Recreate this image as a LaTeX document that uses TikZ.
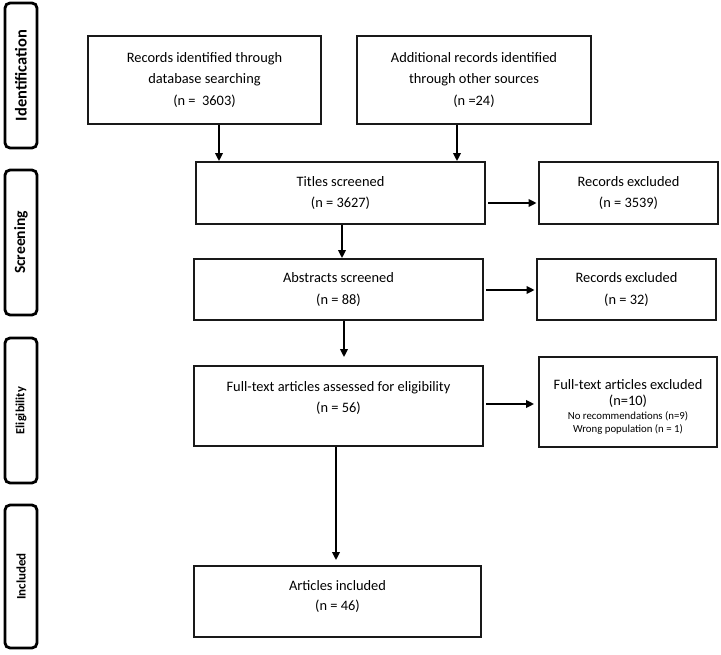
\documentclass[tikz,border=0pt]{standalone}
\usepackage{fontspec}
\setmainfont{Carlito}
\usetikzlibrary{arrows.meta,calc}
\begin{document}
\begin{tikzpicture}[x=1pt,y=-1pt,
  box/.style={draw=black!90, line width=1.8pt, inner sep=0pt, align=center, font=\fontsize{14.4}{21.5}\selectfont},
  phase/.style={draw=black, line width=2.8pt, rounded corners=5pt, rotate=90, inner sep=0pt, minimum height=32pt},
  arr/.style={-{Triangle[length=8pt,width=7.5pt]}, line width=2pt},
  txt/.style={inner sep=0pt, anchor=base, font=\fontsize{14.4}{21.5}\selectfont},
  small/.style={inner sep=0pt, anchor=base, font=\fontsize{10.8}{13}\selectfont}]
\useasboundingbox (0,0) rectangle (721,655);

% phase labels
\node[phase, minimum width=145pt, font=\bfseries\fontsize{16.5}{18}\selectfont] (ident) at (21,75.5) {Identification};
\node[phase, minimum width=145pt, font=\bfseries\fontsize{15.6}{18}\selectfont] (screen) at (21,242.5) {Screening};
\node[phase, minimum width=145pt, font=\bfseries\fontsize{12.5}{14}\selectfont] (elig) at (21,410.5) {Eligibility};
\node[phase, minimum width=143pt, font=\bfseries\fontsize{13}{14}\selectfont] (incl) at (21,576.5) {Included};

% boxes
\node[box, minimum width=233pt, minimum height=88pt] (rec) at (204.5,80) {Records identified through\\database searching\\(n =\ \ 3603)};
\node[box, minimum width=234pt, minimum height=88pt] (add) at (474,80) {Additional records identified\\through other sources\\(n =24)};
\node[box, minimum width=289pt, minimum height=62pt] (titles) at (340.5,193) {Titles screened\\(n = 3627)};
\node[box, minimum width=179pt, minimum height=62pt] (ex1) at (628.5,193) {Records excluded\\(n = 3539)};
\node[box, minimum width=289pt, minimum height=61pt] (abs) at (338.5,289.5) {Abstracts screened\\(n = 88)};
\node[box, minimum width=179pt, minimum height=61pt] (ex2) at (626.5,289.5) {Records excluded\\(n = 32)};
\node[box, minimum width=289pt, minimum height=80pt] (full) at (338.5,406) {};
\node[txt] (fulltxt1) at (338.5,391.5) {Full-text articles assessed for eligibility};
\node[txt] (fulltxt2) at (338.5,413) {(n = 56)};
\node[box, minimum width=178pt, minimum height=90pt] (ex3) at (628,401.7) {};
\node[txt] (ex3t1) at (628,389.5) {Full-text articles excluded};
\node[txt] (ex3t2) at (628,405) {(n=10)};
\node[small] (ex3t3) at (628,419.5) {No recommendations (n=9)};
\node[small] (ex3t4) at (628,432.5) {Wrong population (n = 1)};
\node[box, minimum width=287pt, minimum height=71pt] (art) at (337.5,601.5) {};
\node[txt] (arttxt1) at (337.5,590.5) {Articles included};
\node[txt] (arttxt2) at (337.5,610.5) {(n = 46)};

% vertical arrows
\coordinate (a1) at ($(rec.south)+(14.5,0)$);
\draw[arr] (a1) -- (a1 |- titles.north);
\coordinate (a2) at ($(add.south)+(-17,0)$);
\draw[arr] (a2) -- (a2 |- titles.north);
\coordinate (a3) at ($(titles.south)+(1.5,0)$);
\draw[arr] (a3) -- (a3 |- abs.north);
\coordinate (a4) at ($(abs.south)+(5.5,0)$);
\draw[arr, shorten >=8pt] (a4) -- (a4 |- full.north);
\coordinate (a5) at ($(full.south)+(-2.5,0)$);
\draw[arr, shorten >=5pt] (a5) -- (a5 |- art.north);

% horizontal arrows
\coordinate (h1) at ($(titles.east)+(2.5,10)$);
\draw[arr, shorten >=1.5pt] (h1) -- (h1 -| ex1.west);
\coordinate (h2) at ($(abs.east)+(2.5,0.5)$);
\draw[arr, shorten >=1.5pt] (h2) -- (h2 -| ex2.west);
\coordinate (h3) at ($(full.east)+(2.5,-2)$);
\draw[arr, shorten >=4pt] (h3) -- (h3 -| ex3.west);
\end{tikzpicture}
\end{document}
